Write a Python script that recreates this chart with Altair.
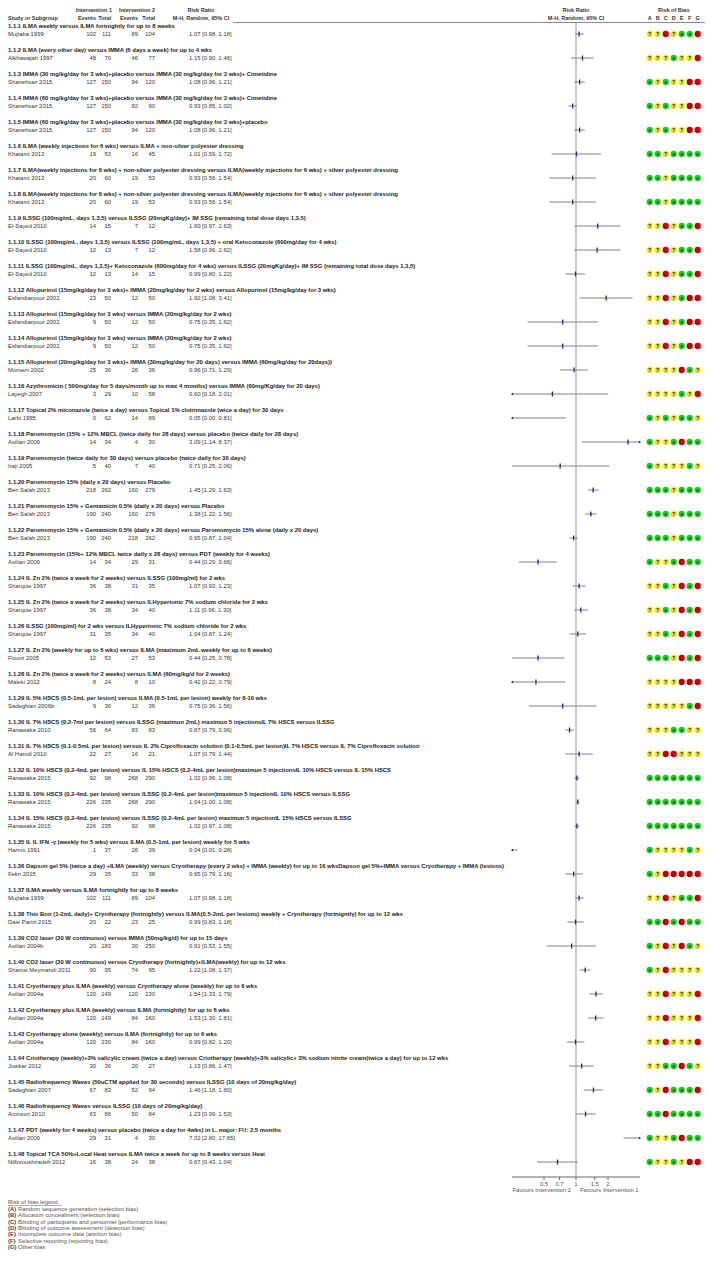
import altair as alt
import pandas as pd

subgroups = [
    "1.1.1 ILMA weekly versus ILMA fortnightly for up to 8 weeks",
    "1.1.2 ILMA (every other day) versus IMMA (6 days a week) for up to 4 wks",
    "1.1.3 IMMA (30 mg/kg/day for 3 wks)+placebo versus IMMA (30 mg/kg/day for 3 wks)+ Cimetidine",
    "1.1.4 IMMA (60 mg/kg/day for 3 wks)+placebo versus IMMA (30 mg/kg/day for 3 wks)+ Cimetidine",
    "1.1.5 IMMA (60 mg/kg/day for 3 wks)+placebo versus IMMA (30 mg/kg/day for 3 wks)+placebo",
    "1.1.6 ILMA (weekly injections for 6 wks) versus ILMA + non-silver polyester dressing",
    "1.1.7 ILMA(weekly injections for 6 wks) + non-silver polyester dressing versus ILMA(weekly injections for 6 wks) + silver polyester dressing",
    "1.1.8 ILMA(weekly injections for 6 wks) + non-silver polyester dressing versus ILMA(weekly injections for 6 wks) + silver polyester dressing",
    "1.1.9 ILSSG (100mg/mL, days 1,3,5) versus ILSSG (20mgKg/day)+ IM SSG (remaining total dose days 1,3,5)",
    "1.1.10 ILSSG (100mg/mL, days 1,3,5) versus ILSSG (100mg/mL, days 1,3,5) + oral Ketoconazole (600mg/day for 4 wks)",
    "1.1.11 ILSSG (100mg/mL, days 1,3,5)+ Ketoconazole (600mg/day for 4 wks) versus ILSSG (20mgKg/day)+ IM SSG (remaining total dose days 1,3,5)",
    "1.1.12 Allopurinol (15mg/kg/day for 3 wks)+ IMMA (20mg/kg/day for 2 wks) versus Allopurinol (15mg/kg/day for 3 wks)",
    "1.1.13 Allopurinol (15mg/kg/day for 3 wks) versus IMMA (20mg/kg/day for 2 wks)",
    "1.1.14 Allopurinol (15mg/kg/day for 3 wks) versus IMMA (20mg/kg/day for 2 wks)",
    "1.1.15 Allopurinol (20mg/kg/day for 3 wks)+ IMMA (30mg/kg/day for 20 days) versus IMMA (60mg/kg/day for 20days))",
    "1.1.16 Azythromicin ( 500mg/day for 5 days/month up to max 4 months) versus IMMA (60mg/Kg/day for 20 days)",
    "1.1.17 Topical 2% miconazole (twice a day) versus Topical 1% clotrimazole (wice a day) for 30 days",
    "1.1.18 Paromomycin (15% + 12% MBCL (twice daily for 28 days) versus placebo (twice daily for 28 days)",
    "1.1.19 Paromomycin (twice daily for 30 days) versus placebo (twice daily for 30 days)",
    "1.1.20 Paromomycin 15% (daily x 20 days) versus Placebo",
    "1.1.21 Paromomycin 15% + Gentamicin 0.5% (daily x 20 days) versus Placebo",
    "1.1.22 Paromomycin 15% + Gentamicin 0.5% (daily x 20 days) versus Paromomycin 15% alone (daily x 20 days)",
    "1.1.23 Paromomycin (15%+ 12% MBCL twice daily x 28 days) versus PDT (weekly for 4 weeks)",
    "1.1.24 IL Zn 2% (twice a week for 2 weeks) versus ILSSG (100mg/ml) for 2 wks",
    "1.1.25 IL Zn 2% (twice a week for 2 weeks) versus ILHypertonic 7% sodium chloride for 2 wks",
    "1.1.26 ILSSG (100mg/ml) for 2 wks versus ILHypertonic 7% sodium chloride for 2 wks",
    "1.1.27 IL Zn 2% (weekly for up to 6 wks) versus ILMA (maximum 2mL weekly for up to 6 weeks)",
    "1.1.28 IL Zn 2% (twice a week for 2 weeks) versus ILMA (60mg/kg/d for 2 weeks)",
    "1.1.29 IL 5% HSCS (0.5-1mL per lesion) versus ILMA (0.5-1mL per lesion) weekly for 6-10 wks",
    "1.1.30 IL 7% HSCS (0.2-7ml per lesion) versus ILSSG (maximun 2mL) maximun 5 injectionsIL 7% HSCS versus ILSSG",
    "1.1.31 IL 7% HSCS (0.1-0.5mL per lesion) versus IL 2% Ciprofloxacin solution (0.1-0.5mL per lesion)IL 7% HSCS versus IL 7% Ciprofloxacin solution",
    "1.1.32 IL 10% HSCS (0.2-4mL per lesion) versus IL 15% HSCS (0.2-4mL per lesion)maximun 5 injectionsIL 10% HSCS versus IL 15% HSCS",
    "1.1.33 IL 10% HSCS (0.2-4mL per lesion) versus ILSSG (0.2-4mL per lesion)maximun 5 injectionIL 10% HSCS versus ILSSG",
    "1.1.34 IL 15% HSCS (0.2-4mL per lesion) versus ILSSG (0.2-4mL per lesion) maximun 5 injectionIL 15% HSCS versus ILSSG",
    "1.1.35 IL IL IFN -γ (weekly for 5 wks) versus ILMA (0.5-1mL per lesion) weekly for 5 wks",
    "1.1.36 Dapson gel 5% (twice a day) +ILMA (weekly) versus Cryotherapy (every 2 wks) + IMMA (weekly) for up to 16 wksDapson gel 5%+IMMA versus Cryotherapy + IMMA (lesions)",
    "1.1.37 ILMA weekly versus ILMA fortnightly for up to 8 weeks",
    "1.1.38 Thio Bon (1-2mL daily)+ Cryotherapy (fortnightly) versus ILMA(0.5-2mL per lesions) weekly + Cryotherapy (fortnigntly) for up to 12 wks",
    "1.1.39 CO2 laser (30 W continuous) versus IMMA (50mg/kg/d) for up to 15 days",
    "1.1.40 CO2 laser (30 W continuous) versus Cryotherapy (fortnightly)+ILMA(weekly) for up to 12 wks",
    "1.1.41 Cryotherapy plus ILMA (weekly) versus Cryotherapy alone (weekly) for up to 6 wks",
    "1.1.42 Cryotherapy plus ILMA (weekly) versus ILMA (fortnightly) for up to 6 wks",
    "1.1.43 Cryotherapy alone (weekly) versus ILMA (fortnightly) for up to 6 wks",
    "1.1.44 Criotherapy (weekly)+3% salicylic cream (twice a day) versus Criotherapy (weekly)+3% salicylic+ 3% sodium nitrite cream(twice a day) for up to 12 wks",
    "1.1.45 Radiofrequency Waves (50uCTM applied for 30 seconds) versus ILSSG (10 days of 20mg/kg/day)",
    "1.1.46 Radiofrequency Waves versus ILSSG (10 days of 20mg/kg/day)",
    "1.1.47 PDT (weekly for 4 weeks) versus placebo (twice a day for 4wks) in L. major: FU: 2.5 months",
    "1.1.48 Topical TCA 50%+Local Heat versus ILMA twice a week for up to 8 weeks versus Heat",
]

studies = [
    "Mujtaba 1999", "Alkhawajah 1997", "Shanehsaz 2015", "Shanehsaz 2015", "Shanehsaz 2015",
    "Khatami 2013", "Khatami 2013", "Khatami 2013", "El-Sayed 2010", "El-Sayed 2010",
    "El-Sayed 2010", "Esfandiarpour 2002", "Esfandiarpour 2002", "Esfandiarpour 2002", "Momeni 2002",
    "Layegh 2007", "Larbi 1995", "Asilian 2006", "Iraji 2005", "Ben Salah 2013",
    "Ben Salah 2013", "Ben Salah 2013", "Asilian 2006", "Sharquie 1997", "Sharquie 1997",
    "Sharquie 1997", "Firooz 2005", "Maleki 2012", "Sadeghian 2006b", "Ranawaka 2010",
    "Al Hamdi 2010", "Ranawaka 2015", "Ranawaka 2015", "Ranawaka 2015", "Harms 1991",
    "Fekri 2015", "Mujtaba 1999", "Daie Parizi 2015", "Asilian 2004b", "Shamsi Meymandi 2011",
    "Asilian 2004a", "Asilian 2004a", "Asilian 2004a", "Jowkar 2012", "Sadeghian 2007",
    "Aronson 2010", "Asilian 2006", "Nilforoushzadeh 2012",
]

events1 = [102, 48, 127, 127, 127, 19, 20, 20, 14, 12, 12, 23, 9, 9, 25, 3, 0, 14, 5, 218,
           190, 190, 14, 36, 36, 31, 12, 8, 9, 56, 22, 92, 226, 226, 1, 29, 102, 20, 20, 90,
           120, 120, 120, 30, 67, 63, 29, 16]
total1 = [111, 70, 150, 150, 150, 53, 60, 60, 15, 13, 13, 50, 50, 50, 36, 29, 62, 34, 40, 262,
          240, 240, 34, 38, 38, 35, 53, 24, 36, 64, 27, 98, 235, 235, 37, 35, 111, 22, 183, 95,
          149, 149, 230, 36, 83, 86, 31, 38]
events2 = [89, 46, 94, 82, 94, 16, 19, 19, 7, 7, 14, 12, 12, 12, 26, 10, 14, 4, 7, 160,
           160, 218, 29, 31, 34, 34, 27, 8, 12, 83, 16, 268, 268, 92, 26, 33, 89, 23, 30, 74,
           120, 84, 84, 20, 52, 50, 4, 24]
total2 = [104, 77, 120, 90, 120, 45, 53, 53, 12, 12, 15, 50, 50, 50, 36, 58, 89, 30, 40, 279,
          279, 262, 31, 35, 40, 40, 53, 10, 36, 83, 21, 290, 290, 98, 39, 38, 104, 25, 250, 95,
          230, 160, 160, 27, 94, 84, 30, 38]
risk_ratio = [1.07, 1.15, 1.08, 0.93, 1.08, 1.01, 0.93, 0.93, 1.60, 1.58, 0.99, 1.92, 0.75, 0.75, 0.96,
              0.60, 0.05, 3.09, 0.71, 1.45, 1.38, 0.95, 0.44, 1.07, 1.11, 1.04, 0.44, 0.42, 0.75, 0.87,
              1.07, 1.02, 1.04, 1.02, 0.04, 0.95, 1.07, 0.99, 0.91, 1.22, 1.54, 1.53, 0.99, 1.13, 1.46,
              1.23, 7.02, 0.67]
ci_low = [0.98, 0.90, 0.96, 0.85, 0.96, 0.59, 0.56, 0.56, 0.97, 0.96, 0.80, 1.08, 0.35, 0.35, 0.71,
          0.18, 0.00, 1.14, 0.25, 1.29, 1.22, 0.87, 0.29, 0.93, 0.96, 0.87, 0.25, 0.22, 0.36, 0.79,
          0.79, 0.96, 1.00, 0.97, 0.01, 0.79, 0.98, 0.83, 0.53, 1.08, 1.33, 1.30, 0.82, 0.86, 1.18,
          0.99, 2.80, 0.43]
ci_high = [1.18, 1.46, 1.21, 1.02, 1.21, 1.72, 1.54, 1.54, 2.63, 2.62, 1.22, 3.41, 1.62, 1.62, 1.29,
           2.01, 0.81, 8.37, 2.06, 1.63, 1.56, 1.04, 0.66, 1.23, 1.30, 1.24, 0.78, 0.79, 1.56, 0.96,
           1.44, 1.08, 1.08, 1.08, 0.28, 1.16, 1.18, 1.18, 1.55, 1.37, 1.79, 1.81, 1.20, 1.47, 1.80,
           1.53, 17.65, 1.04]

# Risk of bias per study, domains A..G ('+' low, '?' unclear, '-' high)
risk_of_bias = [
    "??-?++-", "???+??-", "+?+??--", "+?+??--", "+?+??--", "++?++++", "++?++++", "++?++++",
    "??-?++-", "??-?++-", "??-?++-", "??-?+--", "??-?+--", "??-?+--", "????-+?", "????+?-",
    "+?+?++?", "+??+-++", "+????+?", "+++?+++", "+++?+++", "+++?+++", "+??+-++", "??+?-+-",
    "??+?-+-", "??+?-+-", "+++?-+-", "????---", "?????+-", "???++??", "??--???", "+++++++",
    "+++++++", "+++++++", "+????+?", "+?-----", "??-?++-", "++-+-++", "+?-?-+?", "+?-????",
    "??-???-", "??-???-", "??-???-", "??++-+?", "+?-+++-", "++-++++", "+??+-++", "+??+?--",
]

bias_domains = ["A", "B", "C", "D", "E", "F", "G"]
legend_letters = ["(A)", "(B)", "(C)", "(D)", "(E)", "(F)", "(G)"]
legend_texts = [
    "Random sequence generation (selection bias)",
    "Allocation concealment (selection bias)",
    "Blinding of participants and personnel (performance bias)",
    "Blinding of outcome assessment (detection bias)",
    "Incomplete outcome data (attrition bias)",
    "Selective reporting (reporting bias)",
    "Other bias",
]
axis_ticks = [0.5, 0.7, 1, 1.5, 2]
axis_tick_labels = ["0.5", "0.7", "1", "1.5", "2"]

# ---------------------------------------------------------------- layout
W, H = 697, 1245
Y0, PITCH = 26.0, 24.0
FONT = "Liberation Sans"
FS = 5.9
FSH = 5.5
LO_LIM, HI_LIM = 0.25, 4.0


def ry(px):
    return (px - Y0) / PITCH


YS = alt.Scale(domain=[ry(0), ry(H)], reverse=True, nice=False, zero=False)
XF = alt.Scale(type="log", domain=[LO_LIM, HI_LIM], range=[504, 632], nice=False)
XB = alt.Scale(type="point", domain=bias_domains, range=[641.7, 689.7], padding=0)

n = len(studies)
df = pd.DataFrame({
    "r": list(range(n)),
    "title": subgroups,
    "study": studies,
    "e1": [str(v) for v in events1],
    "t1": [str(v) for v in total1],
    "e2": [str(v) for v in events2],
    "t2": [str(v) for v in total2],
    "rr": risk_ratio,
    "lo": ci_low,
    "hi": ci_high,
})
df["rt"] = df["r"] - 8.0 / PITCH
df["ci_txt"] = [f"{a:.2f} [{b:.2f}, {c:.2f}]" for a, b, c in zip(risk_ratio, ci_low, ci_high)]
df["lo_d"] = df["lo"].clip(LO_LIM, HI_LIM)
df["hi_d"] = df["hi"].clip(LO_LIM, HI_LIM)

one = pd.DataFrame({"k": [0]})


def ydat(px):
    return alt.YDatum(ry(px), scale=YS, axis=None)


def text_col(field, x, align="left", bold=False, yfield="r", color="#222", size=FS):
    return alt.Chart(df).mark_text(
        align=align, baseline="middle", font=FONT, fontSize=size,
        fontWeight="bold" if bold else "normal", color=color,
    ).encode(
        x=alt.value(x),
        y=alt.Y(f"{yfield}:Q", scale=YS, axis=None),
        text=f"{field}:N",
    )


def label(txt, x, py, align="left", bold=True, color="#333", size=FSH):
    return alt.Chart(one).mark_text(
        text=txt, align=align, baseline="middle", font=FONT, fontSize=size,
        fontWeight="bold" if bold else "normal", color=color,
    ).encode(x=alt.value(x), y=ydat(py))


# ---------------------------------------------------------------- table
table_layers = [
    text_col("title", 0, bold=True, yfield="rt", color="#1a1a1a"),
    text_col("study", 0, color="#333"),
    text_col("e1", 88, align="right", color="#333"),
    text_col("t1", 103, align="right", color="#333"),
    text_col("e2", 130, align="right", color="#333"),
    text_col("t2", 147, align="right", color="#333"),
    text_col("ci_txt", 181, color="#333"),
    label("Intervention 1", 86, 2, align="center"),
    label("Intervention 2", 129, 2, align="center"),
    label("Risk Ratio", 193, 2, align="center"),
    label("Study or Subgroup", 0, 10),
    label("Events", 88, 10, align="right"),
    label("Total", 103, 10, align="right"),
    label("Events", 130, 10, align="right"),
    label("Total", 147, 10, align="right"),
    label("M-H, Random, 95% CI", 193, 10, align="center"),
    alt.Chart(one).mark_rule(color="#888", strokeWidth=1).encode(
        x=alt.value(225), x2=alt.value(W), y=ydat(14.5)),
]

# ---------------------------------------------------------------- forest
in_range = df[(df["rr"] >= LO_LIM) & (df["rr"] <= HI_LIM)]
left_arr = df[df["lo"] < LO_LIM]
right_arr = df[df["hi"] > HI_LIM]
ticks_df = pd.DataFrame({"t": axis_ticks, "lab": axis_tick_labels})

forest_layers = [
    alt.Chart(one).mark_rule(color="#999", strokeWidth=1).encode(
        x=alt.XDatum(1, scale=XF, axis=None), y=ydat(15), y2=alt.Y2Datum(ry(1169))),
    alt.Chart(df).mark_rule(color="#808080", strokeWidth=1).encode(
        x=alt.X("lo_d:Q", scale=XF, axis=None), x2="hi_d:Q",
        y=alt.Y("r:Q", scale=YS, axis=None)),
    alt.Chart(left_arr).mark_point(shape="triangle-left", filled=True, size=7,
                                   color="#222", opacity=1).encode(
        x=alt.X("lo_d:Q", scale=XF, axis=None), y=alt.Y("r:Q", scale=YS, axis=None)),
    alt.Chart(right_arr).mark_point(shape="triangle-right", filled=True, size=7,
                                    color="#222", opacity=1).encode(
        x=alt.X("hi_d:Q", scale=XF, axis=None), y=alt.Y("r:Q", scale=YS, axis=None)),
    alt.Chart(in_range).mark_tick(orient="vertical", color="#1f1fa8", size=5,
                                  thickness=1.3, opacity=1).encode(
        x=alt.X("rr:Q", scale=XF, axis=None), y=alt.Y("r:Q", scale=YS, axis=None)),
    # axis
    alt.Chart(one).mark_rule(color="#666", strokeWidth=1).encode(
        x=alt.XDatum(LO_LIM, scale=XF, axis=None), x2=alt.X2Datum(HI_LIM), y=ydat(1169)),
    alt.Chart(ticks_df).mark_rule(color="#666", strokeWidth=1).encode(
        x=alt.X("t:Q", scale=XF, axis=None), y=ydat(1169), y2=alt.Y2Datum(ry(1172))),
    alt.Chart(ticks_df).mark_text(baseline="middle", align="center", font=FONT,
                                  fontSize=FS, color="#555").encode(
        x=alt.X("t:Q", scale=XF, axis=None), y=ydat(1175.5), text="lab:N"),
    alt.Chart(one).mark_text(text="Favours Intervention 2", align="right", dx=-5,
                             baseline="middle", font=FONT, fontSize=FS, color="#555").encode(
        x=alt.XDatum(1, scale=XF, axis=None), y=ydat(1182)),
    alt.Chart(one).mark_text(text="Favours Intervention 1", align="left", dx=4,
                             baseline="middle", font=FONT, fontSize=FS, color="#555").encode(
        x=alt.XDatum(1, scale=XF, axis=None), y=ydat(1182)),
    alt.Chart(one).mark_text(text="Risk Ratio", align="center", baseline="middle",
                             font=FONT, fontSize=FSH, fontWeight="bold", color="#333").encode(
        x=alt.XDatum(1, scale=XF, axis=None), y=ydat(2)),
    alt.Chart(one).mark_text(text="M-H, Random, 95% CI", align="center", baseline="middle",
                             font=FONT, fontSize=FSH, fontWeight="bold", color="#333").encode(
        x=alt.XDatum(1, scale=XF, axis=None), y=ydat(10)),
]
forest = alt.layer(*forest_layers)

# ---------------------------------------------------------------- risk of bias
rob_rows = []
for i, s in enumerate(risk_of_bias):
    for d, c in zip(bias_domains, s):
        rob_rows.append({"r": i, "dom": d, "st": c})
rob = pd.DataFrame(rob_rows)
rob_sym = rob[rob["st"] != "-"]
dom_df = pd.DataFrame({"dom": bias_domains})

rob_layers = [
    alt.Chart(rob).mark_circle(size=40, opacity=1).encode(
        x=alt.X("dom:N", scale=XB, axis=None),
        y=alt.Y("r:Q", scale=YS, axis=None),
        color=alt.Color("st:N", legend=None,
                        scale=alt.Scale(domain=["+", "?", "-"],
                                        range=["#1ec81e", "#ecea1c", "#c80000"])),
    ),
    alt.Chart(rob_sym).mark_text(font=FONT, fontSize=5.2, fontWeight="bold",
                                 color="#222", baseline="middle", align="center", dy=0.3).encode(
        x=alt.X("dom:N", scale=XB, axis=None),
        y=alt.Y("r:Q", scale=YS, axis=None),
        text="st:N",
    ),
    alt.Chart(dom_df).mark_text(font=FONT, fontSize=FSH, fontWeight="bold", color="#333",
                                baseline="middle", align="center").encode(
        x=alt.X("dom:N", scale=XB, axis=None), y=ydat(10), text="dom:N"),
    alt.Chart(one).mark_text(text="Risk of Bias", font=FONT, fontSize=FSH, fontWeight="bold",
                             color="#333", baseline="middle", align="center").encode(
        x=alt.XDatum("D", scale=XB, axis=None, type="nominal"), y=ydat(2)),
]
rob_chart = alt.layer(*rob_layers)

# ---------------------------------------------------------------- legend
leg = pd.DataFrame({"letter": legend_letters, "txt": legend_texts})
leg["r"] = [ry(1201 + 6.3 * i) for i in range(len(leg))]
legend_layers = [
    label("Risk of bias legend", 0, 1194, bold=False, color="#555", size=FS),
    alt.Chart(one).mark_rule(color="#777", strokeWidth=0.6).encode(
        x=alt.value(0), x2=alt.value(54), y=ydat(1197.5)),
    alt.Chart(leg).mark_text(align="left", baseline="middle", font=FONT, fontSize=FS,
                             fontWeight="bold", color="#444").encode(
        x=alt.value(0), y=alt.Y("r:Q", scale=YS, axis=None), text="letter:N"),
    alt.Chart(leg).mark_text(align="left", baseline="middle", font=FONT, fontSize=FS,
                             color="#555").encode(
        x=alt.value(10), y=alt.Y("r:Q", scale=YS, axis=None), text="txt:N"),
]

chart = alt.layer(
    *table_layers, *legend_layers, forest, rob_chart
).resolve_scale(x="independent", color="independent").properties(
    width=W, height=H, padding=0, autosize=alt.AutoSizeParams(type="none")
).configure_view(stroke=None)

chart.save("out.html", embed_options={"renderer": "svg", "actions": False})
